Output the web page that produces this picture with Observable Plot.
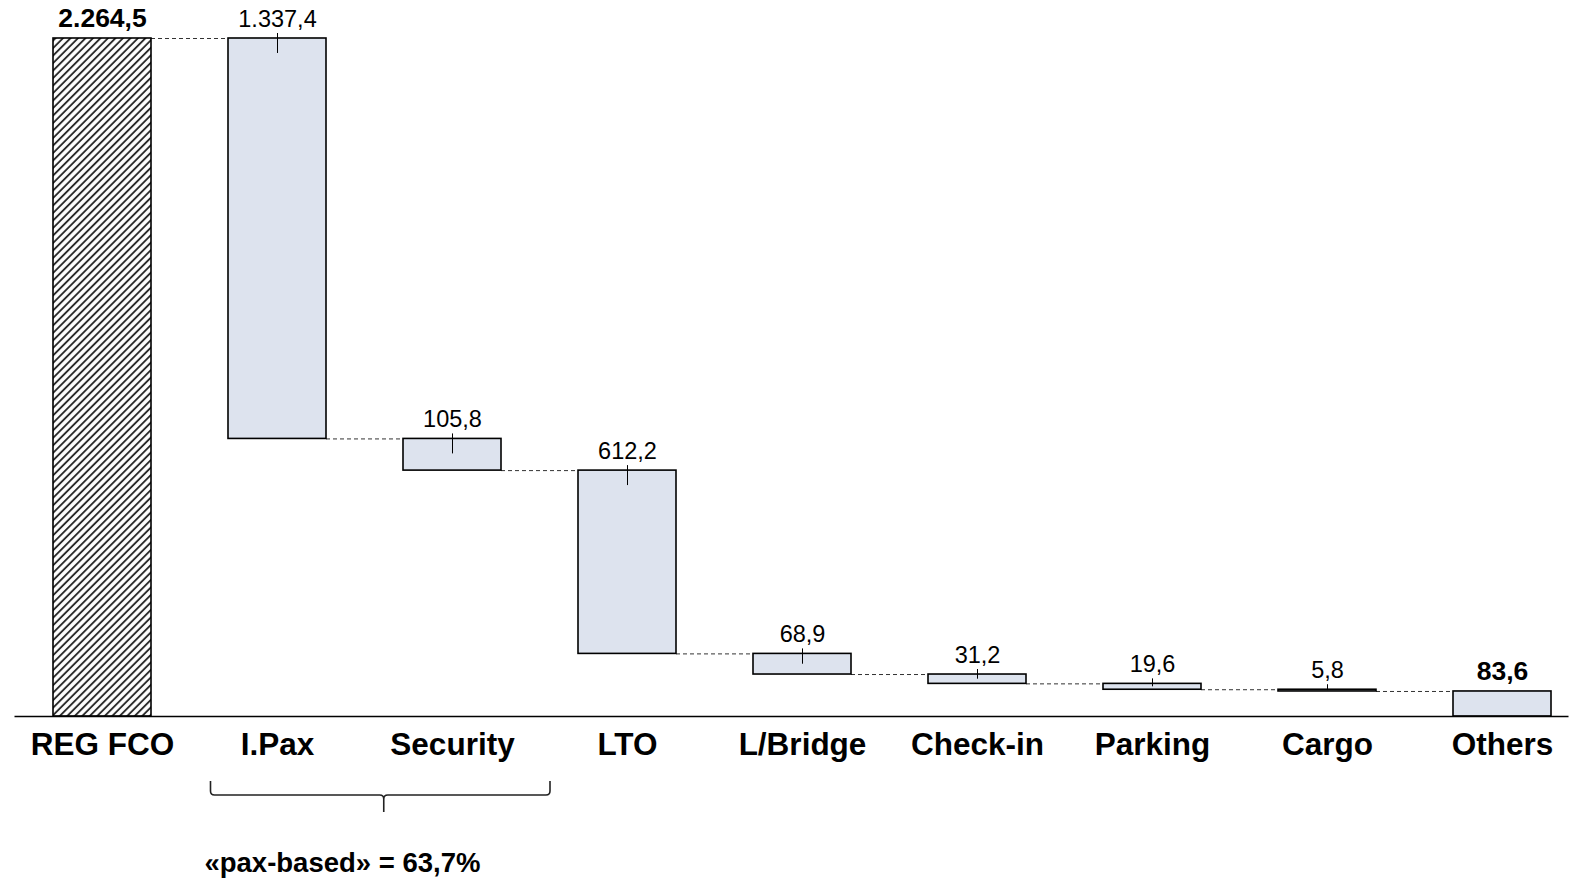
<!DOCTYPE html>
<html>
<head>
<meta charset="utf-8">
<script src="https://cdn.jsdelivr.net/npm/d3@7"></script>
<script src="https://cdn.jsdelivr.net/npm/@observablehq/plot@0.6"></script>
<style>
  html, body { margin: 0; padding: 0; background: #fff; }
  #chart svg { display: block; }
</style>
</head>
<body>
<div id="chart"></div>
<script>
// ---- data ----
const categories = ["REG FCO", "I.Pax", "Security", "LTO", "L/Bridge", "Check-in", "Parking", "Cargo", "Others"];
const values = [2264.5, 1337.4, 105.8, 612.2, 68.9, 31.2, 19.6, 5.8, 83.6];
const kinds = ["total", "delta", "delta", "delta", "delta", "delta", "delta", "delta", "total"];
const braceGroup = ["I.Pax", "Security"];
const braceLabel = "«pax-based» = 63,7%";

// ---- derived table ----
const fmt = d3.formatLocale({decimal: ",", thousands: ".", grouping: [3], currency: ["", "€"]}).format(",.1f");
let run = 0;
const rows = categories.map((c, i) => {
  const v = values[i];
  let y1, y2;
  if (kinds[i] === "total") { y1 = 0; y2 = v; run = v; }
  else { y2 = run; y1 = run - v; run = y1; }
  return {i, cat: c, v, y1, y2, kind: kinds[i], label: fmt(v)};
});
const hw = 0.28; // half bar width in band units
const connectors = rows.slice(0, -1).map((r, k) => ({
  x1: r.i + hw, x2: rows[k + 1].i - hw,
  y: r.kind === "total" ? r.y2 : r.y1
}));
const deltas = rows.filter(r => r.kind === "delta");
const totals = rows.filter(r => r.kind === "total");
const gi = braceGroup.map(c => categories.indexOf(c));

const font = "'Liberation Sans', Arial, Helvetica, sans-serif";

const brace = (index, scales) => {
  const x = scales.x, y = scales.y;
  const L = x(gi[0] - 0.38), R = x(gi[1] + 0.56), T = x(gi[0] + 0.61);
  const y0 = y(0);
  const ye = y0 + 65, yl = y0 + 79, yt = y0 + 96;
  const r = 4;
  const p = d3.path();
  p.moveTo(L, ye); p.lineTo(L, yl - r); p.quadraticCurveTo(L, yl, L + r, yl);
  p.lineTo(T - r, yl); p.quadraticCurveTo(T, yl, T, yl + r); p.lineTo(T, yt);
  p.moveTo(T, yl + r); p.quadraticCurveTo(T, yl, T + r, yl);
  p.lineTo(R - r, yl); p.quadraticCurveTo(R, yl, R, yl - r); p.lineTo(R, ye);
  return d3.create("svg:path")
    .attr("d", p.toString())
    .attr("fill", "none")
    .attr("stroke", "#222")
    .attr("stroke-width", 1.6)
    .node();
};

const chart = Plot.plot({
  width: 1571,
  height: 880,
  marginTop: 38,
  marginBottom: 164,
  marginLeft: 0,
  marginRight: 0,
  style: {fontFamily: font, background: "#fff", overflow: "visible"},
  x: {type: "linear", domain: [-0.5, 8.5], range: [14.5, 1589.5], axis: null},
  y: {domain: [0, 2264.5], axis: null},
  marks: [
    // connectors
    Plot.ruleY(connectors, {x1: "x1", x2: "x2", y: "y", stroke: "#333", strokeWidth: 1, strokeDasharray: "4,3"}),
    // bars
    Plot.rect(rows, {
      x1: d => d.i - hw, x2: d => d.i + hw, y1: "y1", y2: "y2",
      fill: d => d.i === 0 ? "url(#hatch)" : "#dde3ee",
      stroke: "#000", strokeWidth: 1.6
    }),
    // baseline
    Plot.ruleY([0], {x1: -0.5, x2: 8.38, stroke: "#000", strokeWidth: 1.6}),
    // ticks on value labels
    Plot.ruleX(deltas, {x: "i", y1: "y2", y2: d => d.y2 - Math.min(50, d.v / 2), insetTop: -5, stroke: "#000", strokeWidth: 1}),
    // value labels
    Plot.text(deltas, {x: "i", y: "y2", text: "label", dy: -19, fontSize: 23.5, fill: "#000"}),
    Plot.text(totals, {x: "i", y: "y2", text: "label", dy: -20, fontSize: 26.5, fontWeight: "bold", fill: "#000"}),
    // category labels
    Plot.text(rows, {x: "i", y: 0, text: "cat", dy: 28, fontSize: 31.5, fontWeight: "bold", fill: "#000"}),
    // brace
    brace,
    Plot.text([braceLabel], {x: gi[0] + 0.371, y: 0, text: d => d, dy: 147, fontSize: 27.5, fontWeight: "bold", fill: "#000"})
  ]
});

// hatch pattern defs
const svg = d3.select(chart);
const defs = svg.insert("defs", ":first-child");
const P = 5.3;
const pat = defs.append("pattern")
  .attr("id", "hatch")
  .attr("patternUnits", "userSpaceOnUse")
  .attr("width", P).attr("height", P)
  .attr("patternTransform", "rotate(45)");
pat.append("rect").attr("width", P).attr("height", P).attr("fill", "#fff");
pat.append("line").attr("x1", P / 2).attr("y1", 0).attr("x2", P / 2).attr("y2", P)
  .attr("stroke", "#2a2a2a").attr("stroke-width", 1.9);

document.getElementById("chart").appendChild(chart);
</script>
</body>
</html>
